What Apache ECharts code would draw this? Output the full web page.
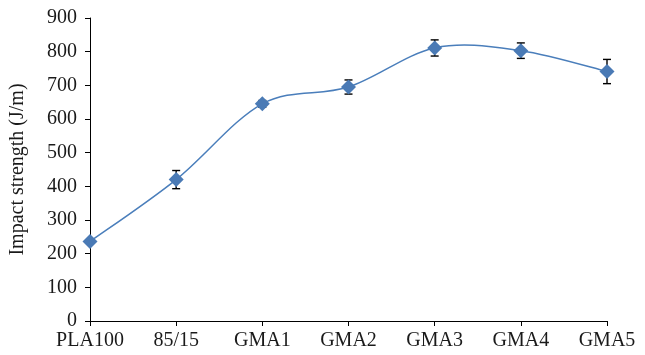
<!DOCTYPE html>
<html>
<head>
<meta charset="utf-8">
<script src="https://cdn.jsdelivr.net/npm/echarts@6/dist/echarts.min.js"></script>
<style>
  html, body { margin: 0; padding: 0; background: #fff; }
  #chart { width: 645px; height: 355px; }
</style>
</head>
<body>
<div id="chart"></div>
<script>
// Impact strength of PLA blends
const categories = ['PLA100', '85/15', 'GMA1', 'GMA2', 'GMA3', 'GMA4', 'GMA5'];
const strength = [236, 420, 645, 695, 811, 803, 741];
const errors = [8, 27, 10, 21, 24, 23, 36];
const yTicks = [0, 100, 200, 300, 400, 500, 600, 700, 800, 900];

const serif = '"Liberation Serif", "DejaVu Serif", serif';
const chart = echarts.init(document.getElementById('chart'));

const pointData = strength.map((v, i) => [i, v]);
const errorData = categories.map((c, i) => [i, strength[i] - errors[i], strength[i] + errors[i]]);

// Smoothed trend line: Catmull-Rom style cubic segments between neighbouring points,
// each point placed through the chart's own coordinate system.
function renderCurve(params, api) {
  if (params.dataIndex !== 0) return null;
  const pts = strength.map((v, i) => api.coord([i, v]));
  const n = pts.length;
  const t = 1 / 6;
  let path = 'M' + pts[0][0] + ' ' + pts[0][1];
  for (let i = 0; i < n - 1; i++) {
    const p0 = pts[Math.max(i - 1, 0)];
    const p1 = pts[i];
    const p2 = pts[i + 1];
    const p3 = pts[Math.min(i + 2, n - 1)];
    const c1x = p1[0] + (p2[0] - p0[0]) * t;
    const c1y = p1[1] + (p2[1] - p0[1]) * t;
    const c2x = p2[0] - (p3[0] - p1[0]) * t;
    const c2y = p2[1] - (p3[1] - p1[1]) * t;
    path += ' C' + c1x + ' ' + c1y + ' ' + c2x + ' ' + c2y + ' ' + p2[0] + ' ' + p2[1];
  }
  return {
    type: 'path',
    shape: { pathData: path },
    style: { fill: null, stroke: '#4a7ebb', lineWidth: 1.5 }
  };
}

chart.setOption({
  animation: false,
  grid: { left: 90, right: 38, top: 18, bottom: 34, containLabel: false },
  xAxis: {
    type: 'category',
    data: categories,
    boundaryGap: false,
    axisLine: { lineStyle: { color: '#000', width: 1 } },
    axisTick: { show: true, length: 5, interval: 0, lineStyle: { color: '#000' } },
    axisLabel: { color: '#1a1a1a', fontFamily: serif, fontSize: 20, margin: 10, interval: 0 }
  },
  yAxis: {
    type: 'value',
    min: yTicks[0],
    max: yTicks[yTicks.length - 1],
    interval: 100,
    name: 'Impact strength (J/m)',
    nameLocation: 'middle',
    nameGap: 62,
    nameTextStyle: { color: '#1a1a1a', fontFamily: serif, fontSize: 20 },
    axisLine: { show: true, lineStyle: { color: '#000', width: 1 } },
    axisTick: { show: true, length: 5, lineStyle: { color: '#000' } },
    axisLabel: { color: '#1a1a1a', fontFamily: serif, fontSize: 20, margin: 13 },
    splitLine: { show: false }
  },
  series: [
    {
      type: 'custom',
      data: pointData,
      renderItem: renderCurve,
      z: 1
    },
    {
      type: 'custom',
      data: errorData,
      z: 2,
      renderItem: function (params, api) {
        const x = api.value(0);
        const lo = api.coord([x, api.value(1)]);
        const hi = api.coord([x, api.value(2)]);
        const w = 4;
        const style = { stroke: '#000', lineWidth: 1.4 };
        return {
          type: 'group',
          children: [
            { type: 'line', shape: { x1: lo[0], y1: lo[1], x2: hi[0], y2: hi[1] }, style },
            { type: 'line', shape: { x1: lo[0] - w, y1: lo[1], x2: lo[0] + w, y2: lo[1] }, style },
            { type: 'line', shape: { x1: hi[0] - w, y1: hi[1], x2: hi[0] + w, y2: hi[1] }, style }
          ]
        };
      }
    },
    {
      type: 'scatter',
      data: pointData,
      symbol: 'diamond',
      symbolSize: 15,
      itemStyle: { color: '#4a7ab5', opacity: 1 },
      z: 3
    }
  ]
});
</script>
</body>
</html>
